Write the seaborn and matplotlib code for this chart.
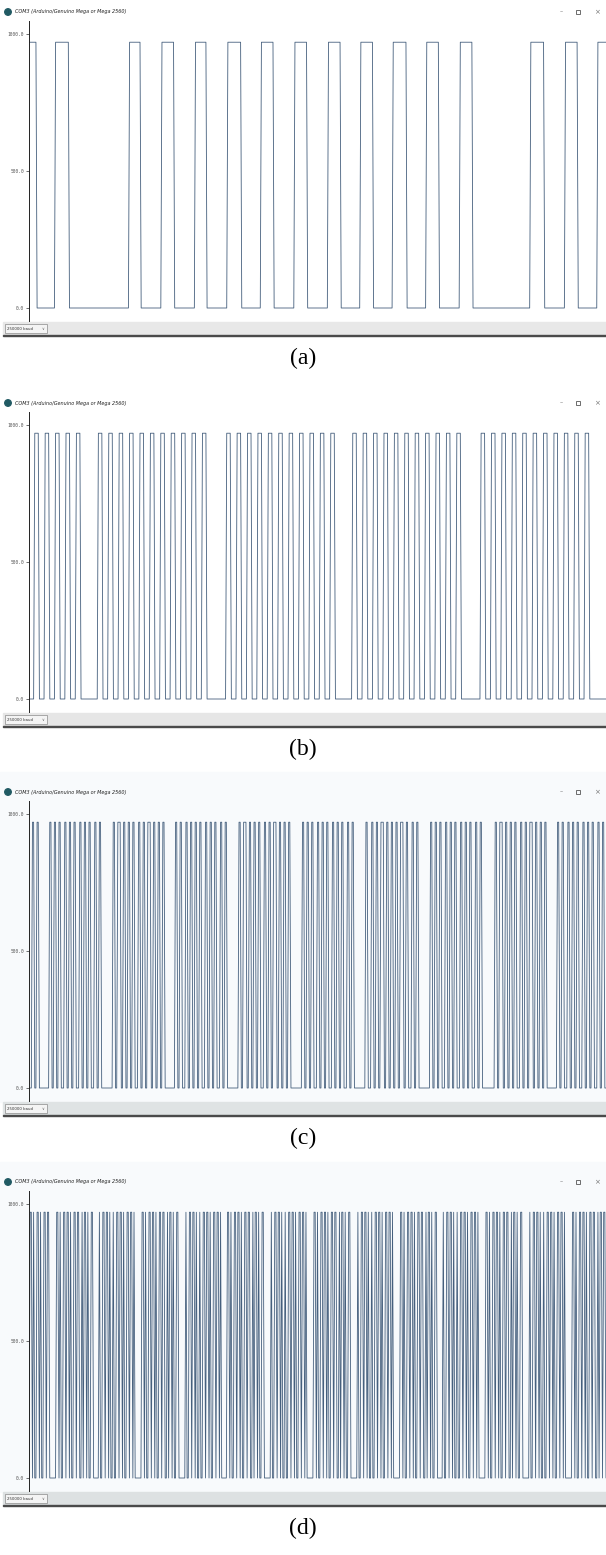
import numpy as np
import pandas as pd
import seaborn as sns
import matplotlib.pyplot as plt
from matplotlib.patches import Rectangle, Ellipse

# serial plotter readings: run lengths (in samples) of alternating low/high levels
HIGH = 970
panel_labels = ["(a)", "(b)", "(c)", "(d)"]
start_levels = [1, 0, 0, 0]

runs_a = [7, 16, 12, 52, 10, 18, 11, 18, 10, 18, 12, 17, 11, 18, 11, 18, 11, 17,
          11, 17, 12, 17, 11, 18, 11, 50, 12, 18, 11, 17, 8]

runs_b = [5, 4, 5, 4, 5, 4, 5, 4, 5, 4, 15,
          4, 5, 4, 5, 4, 5, 4, 5, 4, 5, 4, 5, 4, 5, 4, 5, 4, 5, 4, 5, 4, 17,
          4, 5, 4, 5, 4, 5, 4, 5, 4, 5, 4, 5, 4, 5, 4, 5, 4, 5, 4, 5, 4, 15,
          4, 5, 4, 5, 4, 5, 4, 5, 4, 5, 4, 5, 4, 5, 4, 5, 4, 5, 4, 5, 4, 17,
          4, 5, 4, 5, 4, 5, 4, 5, 4, 5, 4, 5, 4, 5, 4, 5, 4, 5, 4, 5, 4, 15]

runs_c = [3, 2, 2, 2, 9,
          2, 2, 2, 2, 2, 3, 2, 2, 2, 2, 2, 3, 2, 2, 2, 2, 2, 3, 2, 2, 2, 10,
          2, 2, 3, 2, 2, 2, 2, 2, 2, 3, 2, 2, 2, 2, 3, 2, 2, 2, 2, 2, 2, 9,
          2, 2, 2, 3, 2, 2, 2, 2, 2, 2, 2, 3, 2, 2, 2, 2, 2, 3, 2, 2, 2, 10,
          2, 2, 3, 2, 2, 2, 2, 2, 2, 3, 2, 2, 2, 2, 3, 2, 2, 2, 2, 2, 2, 10,
          2, 2, 2, 2, 2, 3, 2, 2, 2, 2, 2, 3, 2, 2, 2, 2, 2, 3, 2, 2, 2, 10,
          2, 3, 2, 2, 2, 2, 3, 2, 2, 2, 2, 2, 2, 2, 3, 2, 2, 3, 2, 2, 2, 10,
          2, 2, 2, 2, 2, 3, 2, 2, 2, 2, 2, 3, 2, 2, 2, 2, 2, 3, 2, 2, 2, 11,
          2, 2, 3, 2, 2, 2, 2, 2, 2, 3, 2, 2, 2, 2, 3, 2, 2, 2, 2, 2, 2, 9,
          2, 2, 2, 3, 2, 2, 2, 2, 2, 3, 2, 2, 2, 2, 2, 3, 2, 2, 2, 2]

runs_d = [1, 2, 1, 1, 2, 2, 1, 1, 2, 2, 1, 2, 6,
          2, 1, 1, 2, 2, 1, 2, 1, 1, 2, 2, 1, 2, 2, 1, 1, 2, 1, 1, 2, 2, 5,
          1, 2, 2, 1, 2, 1, 1, 2, 1, 2, 2, 1, 2, 1, 1, 2, 2, 1, 2, 1, 1, 6,
          2, 1, 1, 2, 2, 1, 2, 1, 1, 2, 2, 1, 2, 2, 1, 1, 2, 1, 1, 2, 2, 6,
          1, 2, 2, 1, 2, 1, 1, 2, 1, 2, 2, 1, 2, 1, 1, 2, 2, 1, 2, 1, 1, 5,
          2, 1, 1, 2, 2, 1, 2, 1, 1, 2, 2, 1, 2, 2, 1, 1, 2, 1, 1, 2, 2, 6,
          1, 2, 2, 1, 2, 1, 1, 2, 1, 2, 2, 1, 2, 1, 1, 2, 2, 1, 2, 1, 1, 6,
          2, 1, 1, 2, 2, 1, 2, 1, 1, 2, 2, 1, 2, 2, 1, 1, 2, 1, 1, 2, 2, 6,
          1, 2, 2, 1, 2, 1, 1, 2, 1, 2, 2, 1, 2, 1, 1, 2, 2, 1, 2, 1, 1, 6,
          2, 1, 1, 2, 2, 1, 2, 1, 1, 2, 2, 1, 2, 2, 1, 1, 2, 1, 1, 2, 2, 5,
          1, 2, 2, 1, 2, 1, 1, 2, 1, 2, 2, 1, 2, 1, 1, 2, 2, 1, 2, 1, 1, 6,
          2, 1, 1, 2, 2, 1, 2, 1, 1, 2, 2, 1, 2, 2, 1, 1, 2, 1, 1, 2, 2, 6,
          1, 2, 2, 1, 2, 1, 1, 2, 1, 2, 2, 1, 2, 1, 1, 2, 2, 1, 2, 1, 1, 6,
          2, 1, 1, 2, 2, 1, 2, 1, 1, 2, 2, 1, 2, 2, 1, 1, 2, 1, 2, 1]

all_runs = [runs_a, runs_b, runs_c, runs_d]

y_ticks = [0, 500, 1000]
y_ticklabels = ["0.0", "500.0", "1000.0"]
window_title = "COM3 (Arduino/Genuino Mega or Mega 2560)"
baud_text = "250000 baud"


def expand(runs, start):
    levels = []
    lvl = start
    for r in runs:
        levels += [lvl * HIGH] * r
        lvl = 1 - lvl
    return pd.DataFrame({"sample": np.arange(len(levels)), "value": levels})


sns.set_theme(style="white")
plt.rcParams["font.family"] = ["DejaVu Sans"]

W, H = 606, 1555
fig = plt.figure(figsize=(W / 100, H / 100), dpi=100)


def fx(x):
    return x / W


def fy(y):
    return 1 - y / H


def box(x0, y0, x1, y1, **kw):
    # rectangle given in pixel coords from the top-left
    fig.patches.append(Rectangle((fx(x0), fy(y1)), (x1 - x0) / W, (y1 - y0) / H,
                                 transform=fig.transFigure, **kw))


line_color = "#455f7d"
tops = [0, 391, 780, 1170]
win_bg = ["white", "white", "#f8fafc", "#f8fafc"]
bar_bg = ["#e8e8e8", "#e6e6e6", "#dfe3e4", "#dde1e2"]

for k in range(4):
    T = tops[k]
    y1000, y0 = T + 34, T + 308
    # window background + status bar
    box(0, max(T - 8, 0), W, T + 322, color=win_bg[k], zorder=0)
    box(3, T + 322, W, T + 335, color=bar_bg[k], zorder=1)
    box(3, T + 335, W, T + 336.3, color="#4a4a4a", zorder=2)
    box(5, T + 323.5, 47, T + 333, facecolor="#f4f4f4", edgecolor="#8a8a8a", lw=0.5, zorder=3)
    fig.text(fx(7), fy(T + 328.5), baud_text, fontsize=2.8, color="#333",
             va="center", ha="left", zorder=4)
    fig.text(fx(43), fy(T + 328.5), "\u2228", fontsize=2.8, color="#666",
             va="center", ha="center", zorder=4)

    # title bar
    fig.patches.append(Ellipse((fx(8), fy(T + 12)), 6.5 / W, 6.5 / H,
                               transform=fig.transFigure, color="#215a63", zorder=3))
    fig.text(fx(15), fy(T + 12), window_title, fontsize=3.5, color="#222",
             va="center", ha="left", style="italic")
    fig.text(fx(561), fy(T + 12), "\u2013", fontsize=4.5, color="#555", va="center", ha="center")
    box(576, T + 10, 580, T + 14, facecolor="none", edgecolor="#555", lw=0.6, zorder=3)
    fig.text(fx(597), fy(T + 12), "\u00d7", fontsize=5, color="#777", va="center", ha="center")

    # plot area
    span = y0 - y1000
    pad = 13
    ax = fig.add_axes([fx(29), fy(y0 + pad), 1 - fx(29), (span + 2 * pad) / H])
    ax.set_zorder(5)
    ax.patch.set_alpha(0)
    df = expand(all_runs[k], start_levels[k])
    sns.lineplot(data=df, x="sample", y="value", ax=ax, color=line_color,
                 linewidth=0.6, estimator=None)
    ax.set_xlim(0, len(df) - 1)
    ax.set_ylim(-pad / span * 1000, 1000 + pad / span * 1000)
    ax.set_yticks(y_ticks)
    ax.set_yticklabels(y_ticklabels, fontsize=3.3, color="#555", family="DejaVu Sans Mono")
    ax.set_xticks([])
    ax.set_xlabel("")
    ax.set_ylabel("")
    for s in ["top", "right", "bottom"]:
        ax.spines[s].set_visible(False)
    ax.spines["left"].set_color("#222")
    ax.spines["left"].set_linewidth(0.7)
    ax.tick_params(axis="y", left=True, length=2.5, width=0.5, color="#333", pad=1)

    fig.text(0.5, fy(T + 358), panel_labels[k], fontsize=17, family="Liberation Serif",
             ha="center", va="center", color="black")

fig.savefig("out.png", dpi=100)
